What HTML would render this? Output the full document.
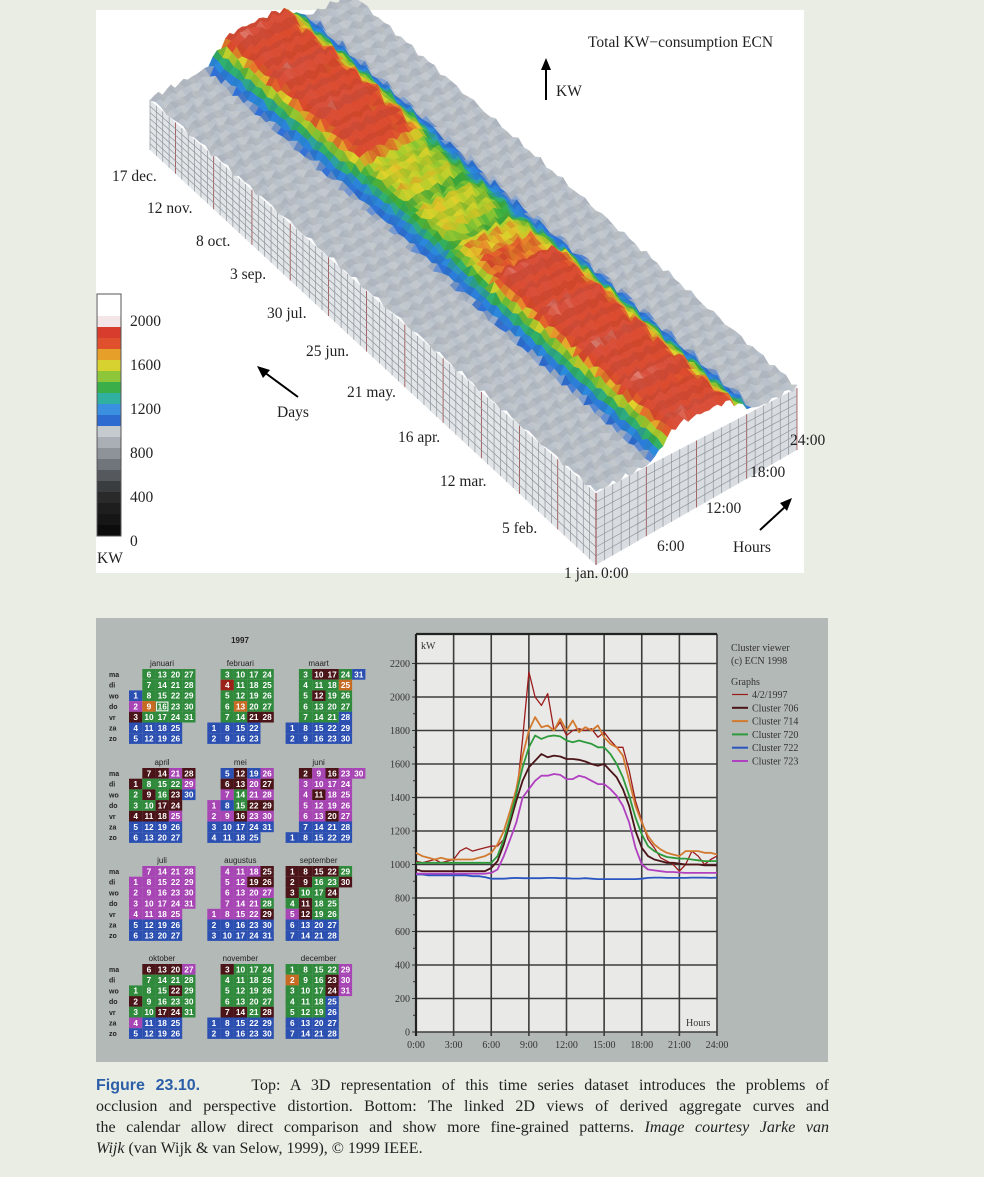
<!DOCTYPE html>
<html><head><meta charset="utf-8">
<style>
html,body{margin:0;padding:0;background:#e9ede4;}
#page{position:relative;width:984px;height:1177px;overflow:hidden;background:#e9ede4;}
svg{position:absolute;left:0;top:0;}
#caption{position:absolute;left:96px;top:1075px;width:733px;font-family:"Liberation Serif",serif;font-size:16px;line-height:21px;color:#222;}
#caption div{text-align:justify;text-align-last:justify;white-space:nowrap;}
#caption div.last{text-align-last:left;}
#caption b{font-family:"Liberation Sans",sans-serif;color:#2b5ea7;font-size:16px;}
</style></head>
<body>
<div id="page">
<svg id="svg" width="984" height="1177" viewBox="0 0 984 1177" font-family="Liberation Serif, serif">
  <rect x="96" y="10" width="708" height="563" fill="#ffffff"/>
  <g id="box3d"></g>
  <g id="colorbar"></g>
  <g font-size="15.5" fill="#222">
    <text x="588" y="47">Total KW−consumption ECN</text>
    <line x1="546" y1="100" x2="546" y2="68" stroke="#000" stroke-width="2"/>
    <polygon points="541,70 546,58 551,70" fill="#000"/>
    <text x="556" y="96">KW</text>
    <text x="112" y="181">17 dec.</text>
    <text x="147" y="213">12 nov.</text>
    <text x="196" y="246">8 oct.</text>
    <text x="230" y="279">3 sep.</text>
    <text x="267" y="318">30 jul.</text>
    <text x="306" y="356">25 jun.</text>
    <text x="347" y="397">21 may.</text>
    <text x="398" y="442">16 apr.</text>
    <text x="440" y="486">12 mar.</text>
    <text x="502" y="533">5 feb.</text>
    <text x="564" y="578">1 jan.</text>
    <text x="601" y="578">0:00</text>
    <text x="657" y="551">6:00</text>
    <text x="706" y="513">12:00</text>
    <text x="750" y="477">18:00</text>
    <text x="790" y="445">24:00</text>
    <text x="733" y="552">Hours</text>
    <line x1="760" y1="530" x2="786" y2="506" stroke="#000" stroke-width="2"/>
    <polygon points="780,503 792,498 787,511" fill="#000"/>
    <text x="277" y="417">Days</text>
    <line x1="298" y1="397" x2="264" y2="372" stroke="#000" stroke-width="2"/>
    <polygon points="257,366 270,370 263,378" fill="#000"/>
    <text x="130" y="326">2000</text>
    <text x="130" y="370">1600</text>
    <text x="130" y="414">1200</text>
    <text x="130" y="458">800</text>
    <text x="130" y="502">400</text>
    <text x="130" y="546">0</text>
    <text x="97" y="563">KW</text>
  </g>
  <rect x="96" y="618" width="732" height="444" fill="#b3b9b6"/>
  <g id="calendar"></g>
  <g id="chart"></g>
  <g font-size="10" fill="#333">
    <text x="731" y="651">Cluster viewer</text>
    <text x="731" y="664">(c) ECN 1998</text>
    <text x="731" y="685">Graphs</text>
    <g id="legend"></g>
  </g>
</svg>
<div id="caption">
<div><b>Figure 23.10.</b>&nbsp;&nbsp;&nbsp;&nbsp; Top: A 3D representation of this time series dataset introduces the problems of</div>
<div>occlusion and perspective distortion. Bottom: The linked 2D views of derived aggregate curves and</div>
<div>the calendar allow direct comparison and show more fine-grained patterns. <i>Image courtesy Jarke van</i></div>
<div class="last"><i>Wijk</i> (van Wijk &amp; van Selow, 1999), © 1999 IEEE.</div>
</div>
</div>
<script>
// ---- line chart data (kW, every 30 minutes from 0:00 to 24:00) ----
const hours = [0,0.5,1,1.5,2,2.5,3,3.5,4,4.5,5,5.5,6,6.5,7,7.5,8,8.5,9,9.5,10,10.5,11,11.5,12,12.5,13,13.5,14,14.5,15,15.5,16,16.5,17,17.5,18,18.5,19,19.5,20,20.5,21,21.5,22,22.5,23,23.5,24];
const seriesNames = ["4/2/1997","Cluster 706","Cluster 714","Cluster 720","Cluster 722","Cluster 723"];
const seriesColors = ["#9b1c1c","#4a1418","#d27a30","#2f9a3c","#2a55c0","#b040c0"];
const s4297 = [1020,1010,1020,1030,1010,1020,1030,1080,1100,1080,1090,1100,1110,1110,1150,1260,1400,1750,2150,2000,1950,2020,1800,1850,1770,1800,1810,1800,1810,1760,1790,1740,1700,1700,1560,1380,1260,1150,1100,1040,1020,1000,960,1000,1080,1050,1000,1030,1050];
const s706 = [970,960,960,960,960,960,960,960,960,960,960,960,980,1020,1120,1250,1380,1500,1580,1620,1660,1640,1650,1645,1630,1630,1625,1615,1600,1590,1600,1560,1520,1450,1350,1200,1100,1050,1030,1020,1010,1010,1005,1000,1000,1000,995,995,995];
const s714 = [1070,1050,1040,1030,1040,1030,1030,1030,1030,1030,1040,1050,1070,1120,1200,1320,1450,1650,1800,1880,1820,1830,1800,1870,1800,1860,1790,1820,1800,1830,1760,1720,1700,1650,1500,1350,1250,1170,1120,1090,1070,1060,1050,1080,1080,1080,1070,1070,1060];
const s720 = [1010,1010,1010,1010,1010,1010,1010,1010,1010,1010,1010,1010,1010,1050,1150,1280,1420,1580,1700,1770,1750,1765,1770,1765,1740,1730,1740,1730,1720,1700,1700,1660,1600,1520,1410,1280,1180,1110,1080,1060,1045,1040,1035,1035,1030,1025,1020,1020,1020];
const s722 = [940,940,935,935,935,935,935,935,935,930,930,925,915,915,915,918,920,918,918,918,918,920,920,918,918,916,916,918,915,913,913,913,913,913,913,913,915,920,922,922,920,920,920,920,922,922,922,920,922];
const s723 = [945,945,945,945,945,945,945,945,945,945,945,945,950,970,1050,1150,1250,1400,1450,1500,1530,1530,1540,1535,1510,1510,1530,1520,1500,1480,1480,1450,1410,1350,1250,1100,1000,970,965,960,955,955,952,950,950,950,950,950,950];
const allSeries = [s4297,s706,s714,s720,s722,s723];
const yTicks = [0,200,400,600,800,1000,1200,1400,1600,1800,2000,2200];
const xTicks = ["0:00","3:00","6:00","9:00","12:00","15:00","18:00","21:00","24:00"];

const NS = "http://www.w3.org/2000/svg";
function mk(tag, attrs, parent){const e=document.createElementNS(NS,tag);for(const k in attrs)e.setAttribute(k,attrs[k]);parent.appendChild(e);return e;}

const PX0=416, PX1=717, PY0=1032, PYTOP=634;
function xS(h){return PX0+h/24*(PX1-PX0);}
function yS(v){return PY0-v/200*33.5;}

const chart=document.getElementById('chart');
const bg=mk('rect',{x:PX0,y:PYTOP,width:PX1-PX0,height:PY0-PYTOP,fill:'#e9eae8'},chart);


yTicks.forEach(v=>{
  const ln=mk('line',{x1:PX0,x2:PX1,y1:yS(v),y2:yS(v),stroke:'#3c3c3c','stroke-width':1.6},chart);
  
  
  const t=mk('text',{x:PX0-6,y:yS(v)+3.5,'text-anchor':'end','font-size':10,fill:'#333'},chart);
  t.textContent=v;
  
  
  mk('line',{x1:PX0-4,x2:PX0,y1:yS(v),y2:yS(v),stroke:'#333','stroke-width':1},chart);
  if(v<2200) mk('line',{x1:PX0-3,x2:PX0,y1:yS(v+100),y2:yS(v+100),stroke:'#333','stroke-width':1},chart);
});
xTicks.forEach((lab,i)=>{
  const h=i*3;
  const ln=mk('line',{x1:xS(h),x2:xS(h),y1:PYTOP,y2:PY0+4,stroke:'#3c3c3c','stroke-width':1.6},chart);
  
  
  const t=mk('text',{x:xS(h),y:PY0+16,'text-anchor':'middle','font-size':10,fill:'#333'},chart);
  t.textContent=lab;
  
  
});
mk('line',{x1:PX0,x2:PX1,y1:PYTOP,y2:PYTOP,stroke:'#222','stroke-width':2.2},chart);
mk('line',{x1:PX0,x2:PX0,y1:PYTOP,y2:PY0+4,stroke:'#222','stroke-width':2.2},chart);
let t1=mk('text',{x:PX0+5,y:PYTOP+15,'font-size':10,fill:'#333'},chart);t1.textContent='kW';


let t2=mk('text',{x:PX1-31,y:PY0-6,'font-size':10,fill:'#333'},chart);t2.textContent='Hours';



allSeries.forEach((s,k)=>{
  const d=s.map((v,i)=>(i?'L':'M')+xS(hours[i]).toFixed(1)+','+yS(v).toFixed(1)).join(' ');
  const p=mk('path',{d:d,fill:'none',stroke:seriesColors[k],'stroke-width':k==0?1.3:1.8,'stroke-linejoin':'round'},chart);
  
  
});
const leg=document.getElementById('legend');
seriesNames.forEach((n,k)=>{
  const y=698+k*13.3;
  const g=mk('g',{},leg);
  
  
  mk('line',{x1:732,x2:748,y1:y-3.5,y2:y-3.5,stroke:seriesColors[k],'stroke-width':k==0?1.2:2},g);
  const t=mk('text',{x:752,y:y,'font-size':10,fill:'#333'},g);t.textContent=n;
});

// ---- calendar ----
const monthNames=["januari","februari","maart","april","mei","juni","juli","augustus","september","oktober","november","december"];
const monthLen=[31,28,31,30,31,30,31,31,30,31,30,31];
const monthFirstDow=[2,5,5,1,3,6,1,4,0,2,5,0];
const monthDefault=["g","g","g","g","g","m","m","m","g","g","g","g"];
const monthOverrides=[
 {1:"b",2:"m",3:"d",9:"o"},
 {4:"r",13:"o",21:"d",28:"d"},
 {10:"d",12:"d",17:"d",25:"o",28:"b",31:"b"},
 {1:"d",4:"d",7:"d",9:"d",11:"d",14:"d",17:"d",18:"d",21:"m",23:"d",24:"d",25:"m",28:"d",29:"m",30:"b"},
 {1:"m",2:"m",5:"b",6:"d",7:"m",8:"b",9:"m",12:"d",13:"d",16:"d",19:"b",20:"m",21:"m",22:"d",23:"m",26:"m",27:"d",28:"m",29:"d",30:"m"},
 {2:"d",11:"d",16:"d",20:"d"},
 {},
 {19:"d",25:"d",26:"d",28:"g",29:"d"},
 {1:"d",2:"d",3:"d",5:"m",8:"d",9:"d",11:"d",12:"d",15:"d",22:"d",24:"d",30:"d"},
 {2:"d",4:"m",6:"d",13:"d",17:"d",20:"d",22:"d",24:"d",27:"m"},
 {3:"d",7:"d",14:"d",28:"d"},
 {2:"o",23:"d",24:"d",25:"b",26:"b",29:"m",30:"m",31:"m"}
];
const codeColor={g:"#2f8a3c",b:"#2b50b2",d:"#4a1418",m:"#a845b5",o:"#c86b22",r:"#9a2218"};
const cal=document.getElementById('calendar');
let yr=mk('text',{x:240,y:643,'text-anchor':'middle','font-family':'Liberation Sans, sans-serif','font-size':8,'font-weight':'bold',fill:'#222'},cal);yr.textContent='1997';
const dowNames=["ma","di","wo","do","vr","za","zo"];
const blockY=[669,768,866,964], CW=13.3, CH=10.7;
for(let m=0;m<12;m++){
  const x0=129+(m%3)*78.3, y0=blockY[Math.floor(m/3)];
  const g=mk('g',{},cal);
  
  
  const tt=mk('text',{x:x0+33,y:y0-3,'text-anchor':'middle','font-family':'Liberation Sans, sans-serif','font-size':8,fill:'#222'},g);tt.textContent=monthNames[m];
  for(let d=1;d<=monthLen[m];d++){
    const idx=monthFirstDow[m]+d-1, col=Math.floor(idx/7), row=idx%7;
    let c=monthOverrides[m][d]||(row>=5?"b":monthDefault[m]);
    const cell=mk('g',{},g);
    
    
    mk('rect',{x:x0+col*CW,y:y0+row*CH,width:CW,height:CH,fill:codeColor[c]},cell);
    if(m==0&&d==16) mk('rect',{x:x0+col*CW+1,y:y0+row*CH+1,width:CW-2,height:CH-2,fill:'none',stroke:'#fff','stroke-width':1},cell);
    const t=mk('text',{x:x0+col*CW+CW/2,y:y0+row*CH+8.3,'text-anchor':'middle','font-family':'Liberation Sans, sans-serif','font-size':8.3,'font-weight':'bold',fill:'#fff'},cell);t.textContent=d;
  }
  if(m%3==0){
    dowNames.forEach((n,r)=>{const t=mk('text',{x:109,y:y0+r*CH+8,'font-family':'Liberation Sans, sans-serif','font-size':7,'font-weight':'bold',fill:'#222'},cal);t.textContent=n;});
  }
}

// ---- 3D surface (decorative rendering) ----
const box=document.getElementById('box3d');
const F=[596,493],L=[150,100],R=[797,388],Fb=[596,565],Lb=[150,150],Rb=[797,450];
function lerp(a,b,t){return [a[0]+(b[0]-a[0])*t,a[1]+(b[1]-a[1])*t];}
function pts(a){return a.map(p=>p[0].toFixed(1)+','+p[1].toFixed(1)).join(' ');}
mk('polygon',{points:pts([L,F,Fb,Lb]),fill:'#e2e5e8'},box);
mk('polygon',{points:pts([F,R,Rb,Fb]),fill:'#d9dde1'},box);
for(let i=0;i<=70;i++){const t=i/70;const a=lerp(F,L,t),b=lerp(Fb,Lb,t);
  mk('line',{x1:a[0],y1:a[1],x2:b[0],y2:b[1],stroke:i%6==0?'#8a3030':'#8d949b','stroke-width':0.7},box);}
for(let j=1;j<8;j++){const s=j/8;const a=lerp(F,Fb,s),b=lerp(L,Lb,s);
  mk('line',{x1:a[0],y1:a[1],x2:b[0],y2:b[1],stroke:'#8d949b','stroke-width':0.7},box);}
for(let i=0;i<=24;i++){const t=i/24;const a=lerp(F,R,t),b=lerp(Fb,Rb,t);
  mk('line',{x1:a[0],y1:a[1],x2:b[0],y2:b[1],stroke:i%6==0?'#8a3030':'#8d949b','stroke-width':0.7},box);}
for(let j=1;j<8;j++){const s=j/8;const a=lerp(F,Fb,s),b=lerp(R,Rb,s);
  mk('line',{x1:a[0],y1:a[1],x2:b[0],y2:b[1],stroke:'#8d949b','stroke-width':0.7},box);}
const stops=[[800,[150,156,162]],[930,[196,201,206]],[1000,[176,186,200]],[1050,[46,111,214]],[1180,[42,140,220]],[1280,[47,176,112]],[1360,[60,174,60]],[1440,[168,204,44]],[1510,[224,210,42]],[1570,[232,132,42]],[1640,[220,74,44]],[1800,[216,80,60]],[1950,[240,222,222]]];
function cmap(v){if(v<=stops[0][0])return stops[0][1];for(let i=1;i<stops.length;i++){if(v<=stops[i][0]){const a=stops[i-1],b=stops[i],t=(v-a[0])/(b[0]-a[0]);return a[1].map((c,k)=>Math.round(c+(b[1][k]-c)*t));}}return stops[stops.length-1][1];}
function prof(h){if(h<6.0)return 0;if(h<10.0){const t=(h-6.0)/4.0;return t*t*(3-2*t);}if(h<15.0)return 1-0.08*(h-10)/5;if(h<19.5){const t=(h-15)/4.5;return 0.92*(1-t*t*(3-2*t));}return 0;}
function peakAt(d,i){let p;if(d<0.38)p=1760;else if(d<0.48)p=1760-(d-0.38)/0.1*280;else if(d<0.66)p=1480;else if(d<0.74)p=1480+(d-0.66)/0.08*270;else p=1750;return p+60*Math.sin(i*1.7)+40*Math.sin(i*0.9);}
const ND=80,NH=48;
function P(d,h,z){const a=[F[0]+d*(L[0]-F[0])+h*(R[0]-F[0]),F[1]+d*(L[1]-F[1])+h*(R[1]-F[1])];return [a[0],a[1]-z];}
const kw=[];for(let i=0;i<=ND;i++){kw.push([]);for(let j=0;j<=NH;j++){const d=i/ND,h=j/NH*24;kw[i].push(950+(peakAt(d,i)-950)*prof(h)+110*Math.sin(i*2.3+j*1.1)*Math.sin(i*0.7+j*2.9));}}
for(let i=ND-1;i>=0;i--){for(let j=NH-1;j>=0;j--){
  const z=v=>(v-900)*0.03;
  const q=[P(i/ND,j/NH,z(kw[i][j])),P(i/ND,(j+1)/NH,z(kw[i][j+1])),P((i+1)/ND,(j+1)/NH,z(kw[i+1][j+1])),P((i+1)/ND,j/NH,z(kw[i+1][j]))];
  const v=(kw[i][j]+kw[i][j+1]+kw[i+1][j]+kw[i+1][j+1])/4;const c=cmap(v);
  const sh=(i%2)?0.94:1;
  const col=`rgb(${Math.round(c[0]*sh)},${Math.round(c[1]*sh)},${Math.round(c[2]*sh)})`;
  mk('polygon',{points:pts(q),fill:col,stroke:col,'stroke-width':0.4},box);
}}
// colorbar
const cb=document.getElementById('colorbar');
const cbColors=["#0c0c0c","#161616","#1e1e1e","#2a2a2a","#3a3d40","#55595d","#6f757a","#8d9399","#a9afb4","#c5cacf","#2e6bd0","#3a8fe0","#2fb0a0","#3aae48","#8ec63a","#d8d230","#e6a02a","#e0502c","#d83c2c","#f4e6e8","#ffffff","#ffffff"];
cbColors.forEach((c,i)=>{mk('rect',{x:97,y:536-(i+1)*11,width:24,height:11,fill:c},cb);});
mk('rect',{x:97,y:294,width:24,height:242,fill:'none',stroke:'#555','stroke-width':1},cb);
</script>
</body></html>
